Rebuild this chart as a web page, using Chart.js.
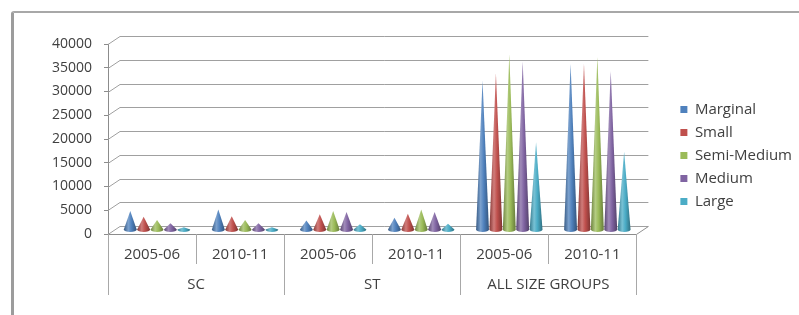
<!DOCTYPE html>
<html>
<head>
<meta charset="utf-8">
<script src="https://cdn.jsdelivr.net/npm/chart.js@4/dist/chart.umd.min.js"></script>
<style>
  html, body { margin: 0; padding: 0; background: #fff; overflow: hidden; }
  #wrap { position: relative; width: 799px; height: 315px; }
  #frame { position: absolute; left: 11px; top: 11px; right: -6px; bottom: -6px;
           border-top: 2px solid #a8a8a8; border-left: 3px solid #9c9c9c; border-top-left-radius: 3px; }
  canvas { position: absolute; left: 0; top: 0; }
</style>
</head>
<body>
<div id="wrap"><div id="frame"></div><canvas id="c" width="799" height="315"></canvas></div>
<script>
const groups = ['SC', 'ST', 'ALL SIZE GROUPS'];
const years = ['2005-06', '2010-11'];
const seriesNames = ['Marginal', 'Small', 'Semi-Medium', 'Medium', 'Large'];
const colors = ['#4F81BD', '#C0504D', '#9BBB59', '#8064A2', '#4BACC6'];

const marginal   = [4000, 4300, 2000, 2600, 31500, 35000];
const small      = [2800, 2900, 3300, 3400, 33000, 35000];
const semiMedium = [2100, 2100, 4000, 4300, 37000, 36500];
const medium     = [1400, 1400, 3800, 3800, 35500, 33500];
const large      = [600, 600, 1200, 1300, 18500, 16500];

const yMax = 40000;
const yStep = 5000;

const labels = groups.flatMap(() => years);
const values = [marginal, small, semiMedium, medium, large];

Chart.defaults.font.family = 'Open Sans';
Chart.defaults.color = '#404040';

// offsets of the fake 3d depth: back wall and the middle row where the cones stand
const BACK = { x: 12, y: -8 };
const MID = { x: 5, y: -4 };

function mix(hex, t) {
  // t < 0 darkens, t > 0 lightens
  const n = parseInt(hex.slice(1), 16);
  const c = [n >> 16, (n >> 8) & 255, n & 255].map(v =>
    Math.round(t < 0 ? v * (1 + t) : v + (255 - v) * t));
  return `rgb(${c[0]},${c[1]},${c[2]})`;
}

const cones = {
  id: 'cones',
  beforeDatasetsDraw(chart) {
    const { ctx, chartArea: a, scales: { x, y } } = chart;
    ctx.save();
    ctx.strokeStyle = '#a0a0a0';
    ctx.lineWidth = 1;
    y.ticks.forEach(t => {
      const py = Math.round(y.getPixelForValue(t.value)) + 0.5;
      ctx.beginPath();
      ctx.moveTo(a.left, py);
      ctx.lineTo(a.left + BACK.x, py + BACK.y);
      ctx.lineTo(a.right + BACK.x, py + BACK.y);
      ctx.stroke();
    });
    const by = Math.round(y.getPixelForValue(0)) + 0.5;
    ctx.strokeStyle = '#909090';
    ctx.beginPath();
    ctx.moveTo(a.right, by);
    ctx.lineTo(a.right + BACK.x, by + BACK.y);
    ctx.stroke();

    chart.data.datasets.forEach((ds, i) => {
      const col = colors[i];
      chart.getDatasetMeta(i).data.forEach(bar => {
        const cx = bar.x + MID.x;
        const top = bar.y + MID.y;
        const base = bar.base + MID.y;
        const hw = bar.width * 0.48;
        const g = ctx.createLinearGradient(cx - hw, 0, cx + hw, 0);
        g.addColorStop(0, mix(col, -0.3));
        g.addColorStop(0.35, mix(col, 0.25));
        g.addColorStop(0.6, col);
        g.addColorStop(1, mix(col, -0.35));
        ctx.fillStyle = g;
        ctx.beginPath();
        ctx.moveTo(cx, top);
        ctx.lineTo(cx + hw, base);
        ctx.ellipse(cx, base, hw, 2.5, 0, 0, Math.PI);
        ctx.closePath();
        ctx.fill();
      });
    });
    ctx.restore();
    return false;
  },
  afterDraw(chart) {
    const { ctx, chartArea: a, scales: { x } } = chart;
    ctx.save();
    ctx.strokeStyle = '#a8a8a8';
    ctx.lineWidth = 1;
    for (let i = 0; i <= labels.length; i++) {
      let bx;
      if (i === 0) bx = a.left;
      else if (i === labels.length) bx = a.right;
      else bx = (x.getPixelForValue(i - 1) + x.getPixelForValue(i)) / 2;
      bx = Math.round(bx) + 0.5;
      const len = i % years.length === 0 ? 61 : 30;
      ctx.beginPath();
      ctx.moveTo(bx, a.bottom);
      ctx.lineTo(bx, a.bottom + len);
      ctx.stroke();
    }
    ctx.fillStyle = '#404040';
    ctx.font = '15px "Open Sans"';
    ctx.textAlign = 'center';
    ctx.textBaseline = 'middle';
    groups.forEach((g, gi) => {
      const i0 = gi * years.length;
      const cx = (x.getPixelForValue(i0) + x.getPixelForValue(i0 + years.length - 1)) / 2;
      ctx.fillText(g, cx, a.bottom + 51);
    });
    ctx.restore();
  }
};

new Chart(document.getElementById('c'), {
  type: 'bar',
  data: {
    labels,
    datasets: seriesNames.map((name, i) => ({
      label: name,
      data: values[i],
      backgroundColor: colors[i],
      borderWidth: 0,
      categoryPercentage: 0.76,
      barPercentage: 1
    }))
  },
  options: {
    responsive: false,
    animation: false,
    devicePixelRatio: 1,
    layout: { padding: { left: 0, top: 44, right: -3, bottom: 48 } },
    scales: {
      x: {
        grid: { display: false, drawTicks: false },
        border: { display: true, color: '#8c8c8c' },
        ticks: { padding: 12, font: { size: 15 }, maxRotation: 0, autoSkip: false },
        afterFit: s => { s.height = 33; }
      },
      y: {
        min: 0,
        max: yMax,
        ticks: { stepSize: yStep, padding: 12, font: { size: 14 }, format: { useGrouping: false } },
        grid: { drawOnChartArea: false, tickLength: 4, color: '#8c8c8c' },
        border: { display: true, color: '#8c8c8c' },
        afterFit: s => { s.width = 108; }
      },
      gap: {
        type: 'linear',
        position: 'right',
        ticks: { display: false },
        grid: { display: false },
        border: { display: false },
        afterFit: s => { s.width = 36; }
      }
    },
    plugins: {
      legend: {
        position: 'right',
        labels: { boxWidth: 7, boxHeight: 7, padding: 8, font: { size: 15 }, color: '#404040' }
      },
      tooltip: { enabled: false }
    }
  },
  plugins: [cones]
});
</script>
</body>
</html>
